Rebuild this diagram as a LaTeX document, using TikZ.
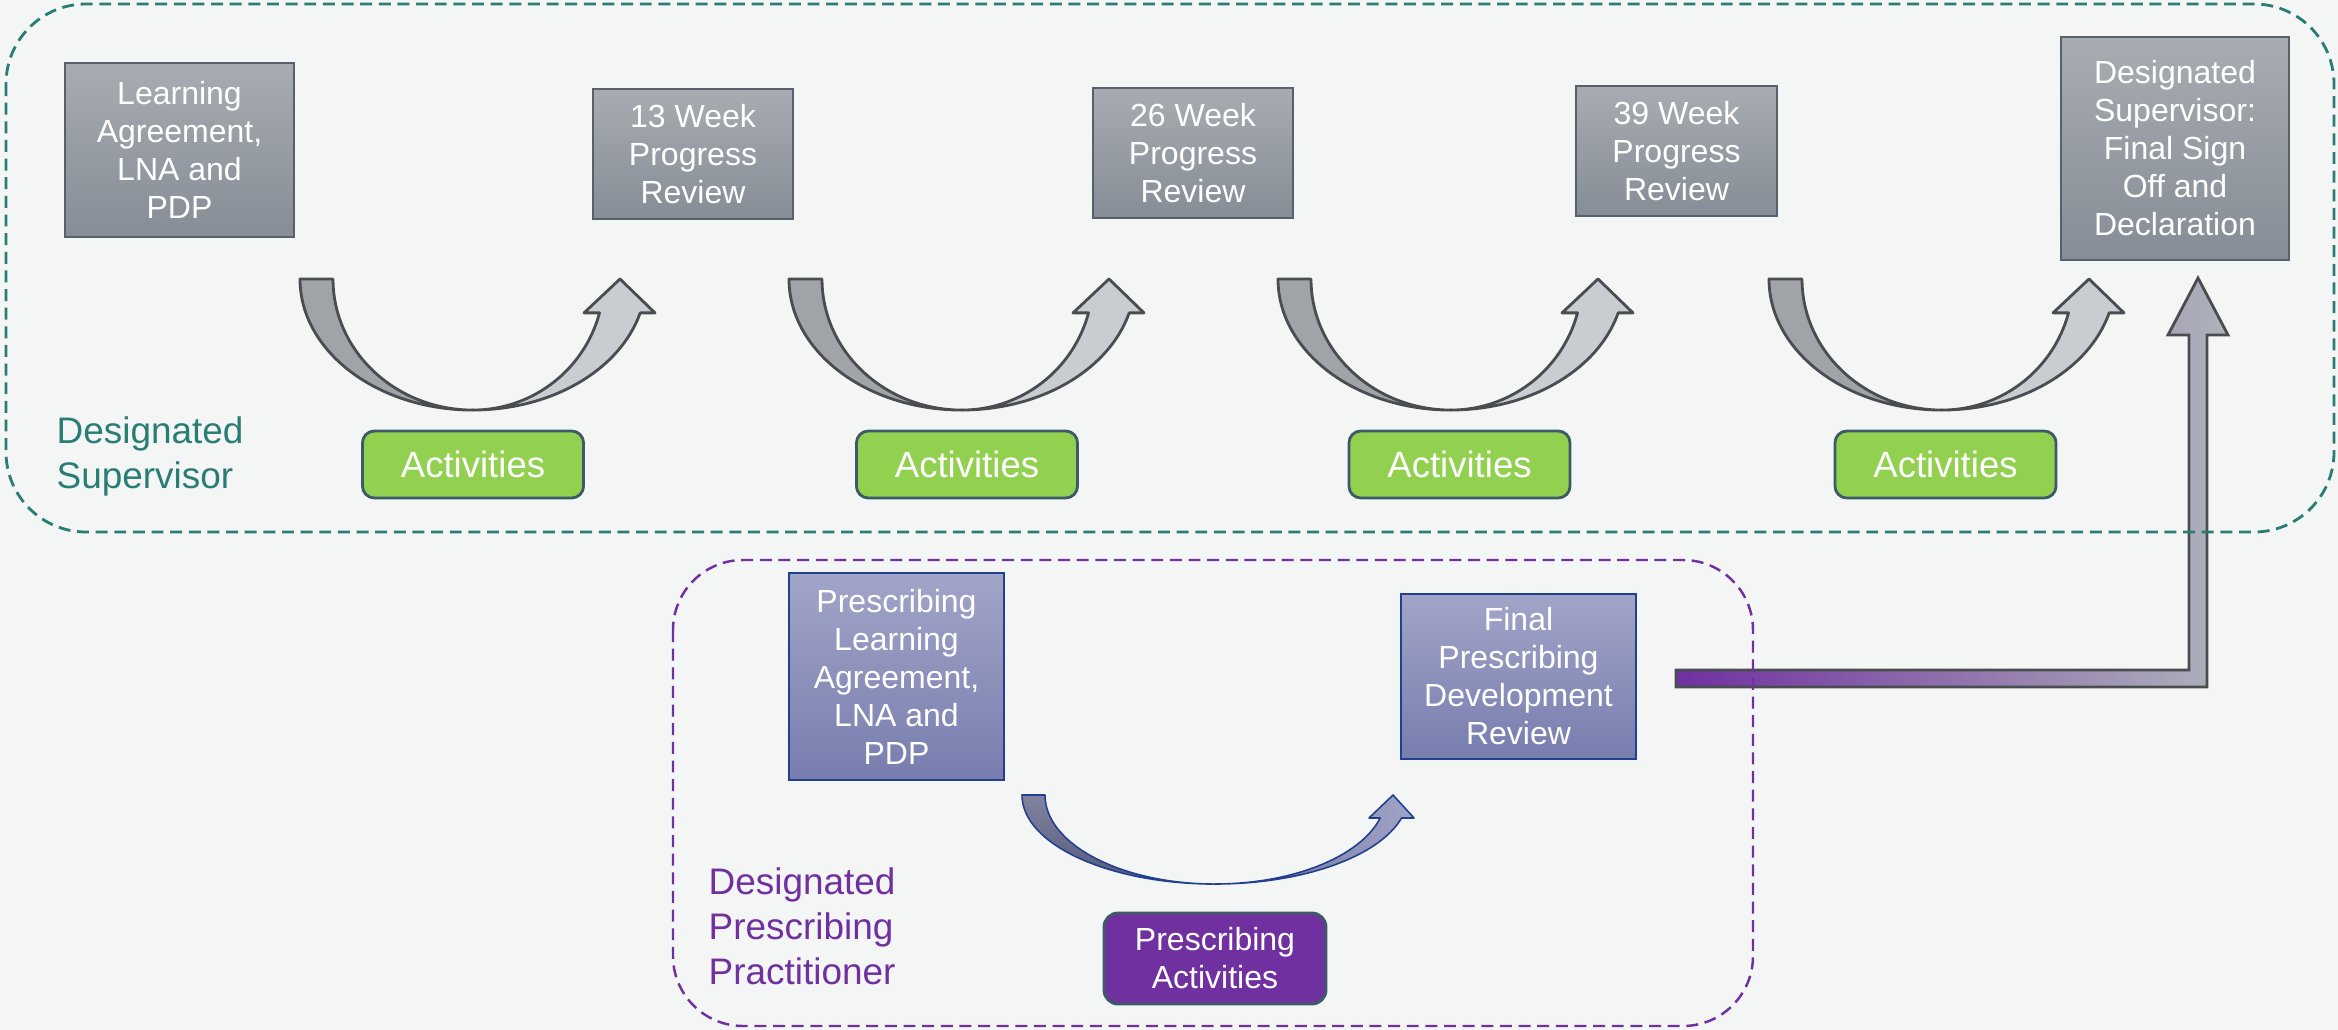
\documentclass[tikz,border=0pt]{standalone}
\usepackage{fontspec}
\setmainfont{Liberation Sans}

\definecolor{pagebg}{HTML}{F4F6F5}
\definecolor{dsteal}{HTML}{2A7D75}
\definecolor{dppurple}{HTML}{7030A0}
\definecolor{graytop}{HTML}{A8ACB2}
\definecolor{graybot}{HTML}{868D96}
\definecolor{grayedge}{HTML}{56616B}
\definecolor{bluetop}{HTML}{A2A5C8}
\definecolor{bluebot}{HTML}{777DAE}
\definecolor{blueedge}{HTML}{233F8F}
\definecolor{actgreen}{HTML}{92D050}
\definecolor{actedge}{HTML}{3D5B66}
\definecolor{arrowdark}{HTML}{A0A4A8}
\definecolor{arrowlight}{HTML}{C8CDD2}
\definecolor{arrowedge}{HTML}{4A4D50}
\definecolor{elbowgray}{HTML}{AEB3BA}

\tikzset{
  stagebox/.style={draw=grayedge, line width=0.55pt, top color=graytop,
    bottom color=graybot, text=white, align=center, inner sep=0pt,
    font=\fontsize{9.1}{10.8}\selectfont},
  prescbox/.style={stagebox, draw=blueedge, top color=bluetop, bottom color=bluebot},
  actbox/.style={draw=actedge, line width=0.8pt, fill=actgreen, rounded corners=3.4pt,
    text=white, inner sep=0pt, font=\fontsize{10.4}{12.5}\selectfont,
    minimum width=2.21cm, minimum height=0.67cm},
  pactbox/.style={draw=actedge, line width=0.8pt, fill=dppurple, rounded corners=4pt,
    text=white, inner sep=0pt, align=center, font=\fontsize{9.1}{10.8}\selectfont},
  lane/.style={dash pattern=on 3.4pt off 1.9pt, line width=0.8pt},
  lanelabel/.style={align=left, inner sep=0pt, anchor=north west,
    font=\fontsize{10.5}{12.8}\selectfont},
  % curved "activities" arrow of the supervisor lane, origin at the top centre
  suparrow/.pic={
    \filldraw[fill=arrowdark, draw=arrowedge, line width=0.8pt, line join=round]
      (-173,0) arc[start angle=180, end angle=270, x radius=1.73cm, y radius=1.31cm]
      arc[start angle=270, end angle=180, x radius=1.40cm, y radius=1.31cm] -- cycle;
    \filldraw[fill=arrowlight, draw=arrowedge, line width=0.8pt, line join=round]
      (0,131) arc[start angle=270, end angle=345, x radius=1.73cm, y radius=1.31cm]
      -- (182,33.9) -- (147,0) -- (111,33.9) -- (126.5,33.9)
      arc[start angle=345, end angle=270, x radius=1.31cm, y radius=1.31cm] -- cycle;
  },
  % curved arrow of the prescribing lane
  prescarrow/.pic={
    \filldraw[top color=bluetop!80!black, bottom color=bluebot!70!black,
        draw=blueedge, line width=0.45pt, line join=round]
      (-193,0) arc[start angle=180, end angle=270, x radius=1.93cm, y radius=0.89cm]
      arc[start angle=270, end angle=180, x radius=1.70cm, y radius=0.89cm] -- cycle;
    \filldraw[left color=bluebot!85!black, right color=bluetop,
        draw=blueedge, line width=0.45pt, line join=round]
      (0,89) arc[start angle=270, end angle=345, x radius=1.93cm, y radius=0.89cm]
      -- (199,23) -- (178,0) -- (154,23) -- (165.2,23)
      arc[start angle=345, end angle=270, x radius=1.71cm, y radius=0.89cm] -- cycle;
  }
}

\begin{document}
\begin{tikzpicture}[x=0.01cm, y=-0.01cm]
  \fill[pagebg] (0,0) rectangle (2338,1030);
  \useasboundingbox (0,0) rectangle (2338,1030);

  % elbow arrow from the prescribing review up to the final sign off
  \coordinate (elbowstart) at (1676,678.5);
  \coordinate (elbowtip) at (2198,278);
  \filldraw[left color=dppurple, right color=elbowgray, draw=arrowedge,
      line width=0.8pt, line join=miter]
    (elbowstart |- 0,670) -- (2189,670) -- (2189,335) -- (2168,335) -- (elbowtip)
    -- (2228,335) -- (2207,335) -- (2207,687) -- (elbowstart |- 0,687) -- cycle;

  % swim lanes
  \draw[lane, draw=dsteal, rounded corners=0.8cm] (6,4) rectangle (2334,532);
  \draw[lane, draw=dppurple, line width=0.7pt, rounded corners=0.7cm]
    (673,560) rectangle (1753,1026);

  \node[lanelabel, text=dsteal] (suplabel) at (56,416.5) {Designated\\Supervisor};
  \node[lanelabel, text=dppurple] (dpplabel) at (708,867.5)
    {Designated\\Prescribing\\Practitioner};

  % supervisor stages
  \node[stagebox, minimum width=2.29cm, minimum height=1.74cm] (la) at (179.5,150)
    {Learning\\Agreement,\\LNA and\\PDP};
  \node[stagebox, minimum width=2.00cm, minimum height=1.30cm] (w13) at (693,154)
    {13 Week\\Progress\\Review};
  \node[stagebox, minimum width=2.00cm, minimum height=1.30cm] (w26) at (1193,153)
    {26 Week\\Progress\\Review};
  \node[stagebox, minimum width=2.01cm, minimum height=1.30cm] (w39) at (1676.5,151)
    {39 Week\\Progress\\Review};
  \node[stagebox, minimum width=2.28cm, minimum height=2.23cm] (signoff) at (2175,148.5)
    {Designated\\Supervisor:\\Final Sign\\Off and\\Declaration};

  % activities between stages
  \node[actbox] (act1) at (473,464.5) {Activities};
  \node[actbox] (act2) at (967,464.5) {Activities};
  \node[actbox] (act3) at (1459.5,464.5) {Activities};
  \node[actbox] (act4) at (1945.5,464.5) {Activities};

  \pic at (473,279) {suparrow};
  \pic at (962,279) {suparrow};
  \pic at (1451,279) {suparrow};
  \pic at (1942,279) {suparrow};

  % prescribing practitioner stages
  \node[prescbox, minimum width=2.15cm, minimum height=2.07cm] (pla) at (896.5,676.5)
    {Prescribing\\Learning\\Agreement,\\LNA and\\PDP};
  \node[prescbox, minimum width=2.35cm, minimum height=1.65cm] (fpdr) at (1518.5,676.5)
    {Final\\Prescribing\\Development\\Review};
  \node[pactbox, minimum width=2.22cm, minimum height=0.91cm] (pact) at (1215,958.5)
    {Prescribing\\Activities};

  \pic at (1215,795) {prescarrow};
\end{tikzpicture}
\end{document}
